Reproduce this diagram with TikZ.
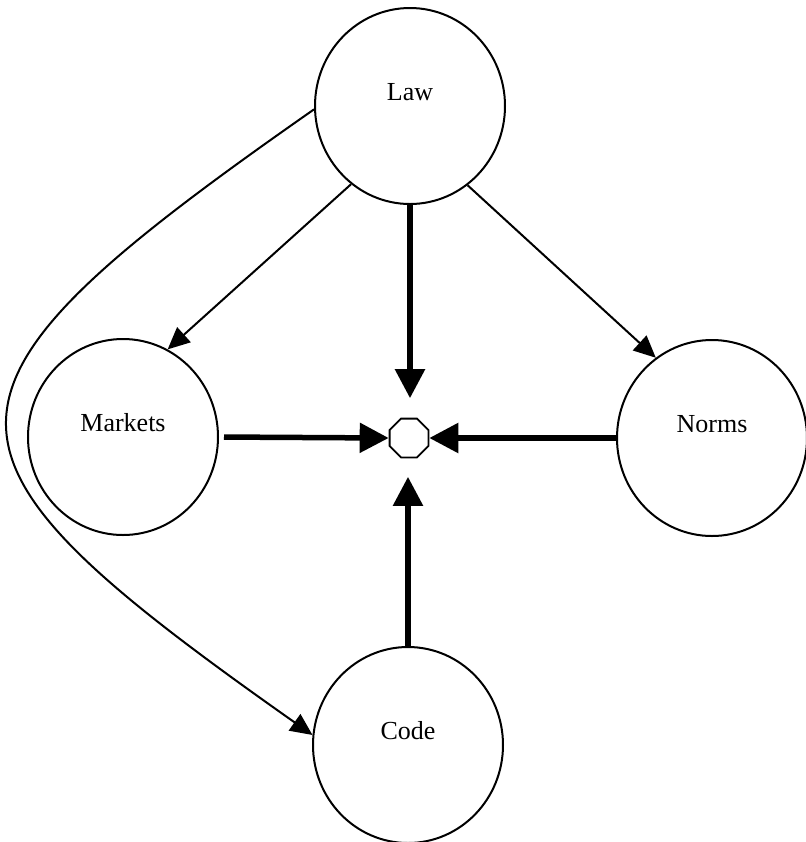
\documentclass[tikz,border=0pt]{standalone}
\usepackage{fontspec}
\setmainfont{Liberation Serif}
\usetikzlibrary{arrows.meta,shapes.geometric}

\tikzset{
  force/.style={draw, ellipse, line width=1pt, minimum width=95pt, minimum height=98pt, inner sep=0pt},
  forcelabel/.style={font=\fontsize{13}{15}\selectfont},
  hub/.style={draw, regular polygon, regular polygon sides=8, line width=0.9pt, minimum size=21pt, inner sep=0pt},
  strong/.style={line width=2.75pt, -{Triangle[length=14.5pt, width=14.5pt]}},
  weak/.style={line width=1pt, -{Triangle[length=11pt, width=10pt]}}
}

\begin{document}
\begin{tikzpicture}[x=0.5pt, y=-0.5pt]
  \useasboundingbox (0,0) rectangle (806,842);

  % the four regulating forces
  \node[force, label={[forcelabel, yshift=7pt]center:Law}]     (law)     at (410,106) {};
  \node[force, label={[forcelabel, yshift=7pt]center:Markets}] (markets) at (123,437) {};
  \node[force, label={[forcelabel, yshift=7pt]center:Norms}]   (norms)   at (712,438) {};
  \node[force, label={[forcelabel, yshift=7pt]center:Code}]    (code)    at (408,745) {};

  % the regulated point
  \node[hub] (dot) at (409,438) {};

  % direct constraints on the regulated point
  \draw[strong, shorten >=9.75pt] (law.south) -- (law.south |- dot.north);
  \draw[strong, shorten <=2.5pt] (markets.east) -- (dot.west);
  \draw[strong] (norms.west) -- (dot.east);
  \draw[strong, shorten >=9.25pt] (code.north) -- (code.north |- dot.south);

  % indirect influence of law on the other forces
  \draw[weak] (law.-127) -- (markets.63);
  \draw[weak] (law.-54) -- (norms.125);
  \draw[weak] (law.182) .. controls (-95,395) and (-92,450) .. (code.174);
\end{tikzpicture}
\end{document}
